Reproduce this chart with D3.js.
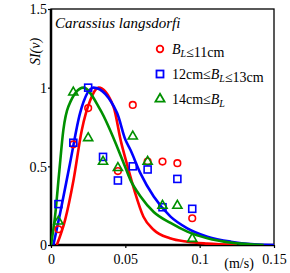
<!DOCTYPE html>
<html>
<head>
<meta charset="utf-8">
<script src="https://cdn.jsdelivr.net/npm/d3@7"></script>
<style>
  body { margin: 0; background: #fff; }
  svg text { font-family: "Liberation Serif", "Times New Roman", serif; }
</style>
</head>
<body>
<div id="chart"></div>
<script>
// measured points (velocity m/s, SI)
var vel = [0.005, 0.015, 0.025, 0.035, 0.045, 0.055, 0.065, 0.075, 0.085, 0.095];
var redPts   = [0.10, 0.64, 0.87, null, 0.47, 0.89, 0.53, 0.53, 0.52, 0.17];
var bluePts  = [0.26, 0.65, 1.00, 0.56, 0.41, 0.50, 0.48, 0.24, 0.42, 0.23];
var greenPts = [0.15, 0.97, 0.68, 0.53, 0.49, 0.69, 0.53, 0.25, 0.25, 0.04];

// fitted curves
var redCurve = [[0.0039,0],[0.0095,0.16],[0.0151,0.41],[0.0207,0.73],[0.0264,0.92],[0.032,1.0],
  [0.042,0.88],[0.047,0.66],[0.0515,0.5],[0.056,0.35],[0.0622,0.18],[0.069,0.097],[0.08,0.043],
  [0.0917,0.021],[0.105,0.009],[0.125,0]];
var blueCurve = [[0.0016,0],[0.0061,0.2],[0.0128,0.52],[0.0196,0.84],[0.0286,1.0],[0.0444,0.84],
  [0.05,0.67],[0.0534,0.605],[0.0601,0.457],[0.0691,0.308],[0.0804,0.18],[0.0917,0.106],
  [0.1052,0.053],[0.121,0.021],[0.1367,0.005],[0.15,0]];
var greenCurve = [[0,0],[0.0027,0.18],[0.0054,0.45],[0.0083,0.73],[0.0117,0.88],[0.0218,1.0],
  [0.0331,0.86],[0.0489,0.52],[0.0534,0.414],[0.0601,0.31],[0.0691,0.21],[0.0804,0.14],
  [0.0917,0.085],[0.1052,0.043],[0.121,0.015],[0.143,0]];

var xTicks = [0, 0.05, 0.1, 0.15];
var yTicks = [0, 0.5, 1, 1.5];
var legendLabels = ["B_L≤11cm", "12cm≤B_L≤13cm", "14cm≤B_L"];

var margin = {top: 9, right: 16, bottom: 28, left: 51},
    width = 290 - margin.left - margin.right,
    height = 273 - margin.top - margin.bottom;

var svg = d3.select("#chart")
  .append("svg")
    .attr("width", 290)
    .attr("height", 273)
  .append("g")
    .attr("transform", "translate(" + margin.left + "," + margin.top + ")");

var x = d3.scaleLinear().domain([0, 0.15]).range([0, width]);
var y = d3.scaleLinear().domain([0, 1.5]).range([height, 0]);

// axes
var xAxis = svg.append("g")
    .attr("transform", "translate(0," + height + ")")
    .call(d3.axisBottom(x).tickValues(xTicks).tickSize(3).tickSizeOuter(0)
      .tickFormat(function(d) { return d === 0 ? "0" : String(d); }));
var yAxis = svg.append("g")
    .call(d3.axisLeft(y).tickValues(yTicks).tickSize(3).tickSizeOuter(0)
      .tickFormat(function(d) { return String(d); }));
[xAxis, yAxis].forEach(function(a) {
  a.attr("font-family", null).attr("font-size", null);
  a.select(".domain").remove();
  a.selectAll("line").attr("stroke", "#000").attr("stroke-width", 1.2);
  a.selectAll("text").attr("fill", "#000").style("font-size", "14px");
});
yAxis.selectAll("text").attr("x", -4).attr("dy", "0.35em");
xAxis.selectAll("text").attr("y", 8).attr("dy", "0.75em");

// frame
svg.append("rect").attr("width", width).attr("height", height)
  .attr("fill", "none").attr("stroke", "#000").attr("stroke-width", 1.3);
svg.append("line").attr("x1", 0).attr("x2", 0).attr("y1", 0).attr("y2", height)
  .attr("stroke", "#000").attr("stroke-width", 2.5);
svg.append("line").attr("x1", -1).attr("x2", width).attr("y1", height).attr("y2", height)
  .attr("stroke", "#000").attr("stroke-width", 2.5);

// unit label
svg.append("text").attr("x", x(0.1265)).attr("y", height + 23)
  .attr("text-anchor", "middle").style("font-size", "14px").text("(m/s)");

// y label
svg.append("text")
  .attr("transform", "translate(-11," + (y(1.23)) + ") rotate(-90)")
  .attr("text-anchor", "middle")
  .style("font-size", "14px").style("font-style", "italic")
  .text("SI(v)");

// title
svg.append("text").attr("x", 4).attr("y", 19)
  .style("font-size", "15px").style("font-style", "italic")
  .text("Carassius langsdorfi");

var line = d3.line()
  .x(function(d) { return x(d[0]); })
  .y(function(d) { return y(d[1]); })
  .curve(d3.curveMonotoneX);

svg.append("clipPath").attr("id", "clip")
  .append("rect").attr("width", width).attr("height", height);

var plot = svg.append("g").attr("clip-path", "url(#clip)");

// curves
plot.append("path").datum(redCurve).attr("d", line)
  .attr("fill", "none").attr("stroke", "#ff0000").attr("stroke-width", 2.6);
plot.append("path").datum(blueCurve).attr("d", line)
  .attr("fill", "none").attr("stroke", "#0000ff").attr("stroke-width", 2.6);
plot.append("path").datum(greenCurve).attr("d", line)
  .attr("fill", "none").attr("stroke", "#009000").attr("stroke-width", 2.6);

function pts(vals) {
  return vel.map(function(v, i) { return [v, vals[i]]; })
    .filter(function(d) { return d[1] !== null; });
}

// red circles
svg.selectAll("circle.red").data(pts(redPts)).enter()
  .append("circle")
    .attr("cx", function(d) { return x(d[0]); })
    .attr("cy", function(d) { return y(d[1]); })
    .attr("r", 3.3)
    .attr("fill", "none").attr("stroke", "#ff0000").attr("stroke-width", 1.6);

// blue squares
svg.selectAll("rect.blue").data(pts(bluePts)).enter()
  .append("rect")
    .attr("x", function(d) { return x(d[0]) - 3.5; })
    .attr("y", function(d) { return y(d[1]) - 3.5; })
    .attr("width", 7).attr("height", 7)
    .attr("fill", "none").attr("stroke", "#0000ff").attr("stroke-width", 1.6);

// green triangles
var tri = d3.symbol().type(d3.symbolTriangle).size(36);
svg.selectAll("path.green").data(pts(greenPts)).enter()
  .append("path")
    .attr("d", tri)
    .attr("transform", function(d) { return "translate(" + x(d[0]) + "," + y(d[1]) + ")"; })
    .attr("fill", "none").attr("stroke", "#009000").attr("stroke-width", 1.6);

// legend
var lx = 109, ly = [40, 65, 90];
svg.append("circle").attr("cx", lx).attr("cy", ly[0]).attr("r", 3.3)
  .attr("fill", "none").attr("stroke", "#ff0000").attr("stroke-width", 1.8);
svg.append("rect").attr("x", lx - 3.5).attr("y", ly[1] - 3.5).attr("width", 7).attr("height", 7)
  .attr("fill", "none").attr("stroke", "#0000ff").attr("stroke-width", 1.8);
svg.append("path").attr("d", tri).attr("transform", "translate(" + lx + "," + ly[2] + ")")
  .attr("fill", "none").attr("stroke", "#009000").attr("stroke-width", 1.8);

legendLabels.forEach(function(lab, i) {
  var t = svg.append("text").attr("x", lx + 12).attr("y", ly[i] + 5)
    .style("font-size", "14px");
  lab.split(/(B_L)/).forEach(function(part) {
    if (part === "B_L") {
      t.append("tspan").style("font-style", "italic").text("B");
      t.append("tspan").style("font-style", "italic").style("font-size", "10px")
        .attr("dy", 3).text("L");
      t.append("tspan").attr("dy", -3).text("");
    } else if (part) {
      t.append("tspan").text(part);
    }
  });
});
</script>
</body>
</html>
